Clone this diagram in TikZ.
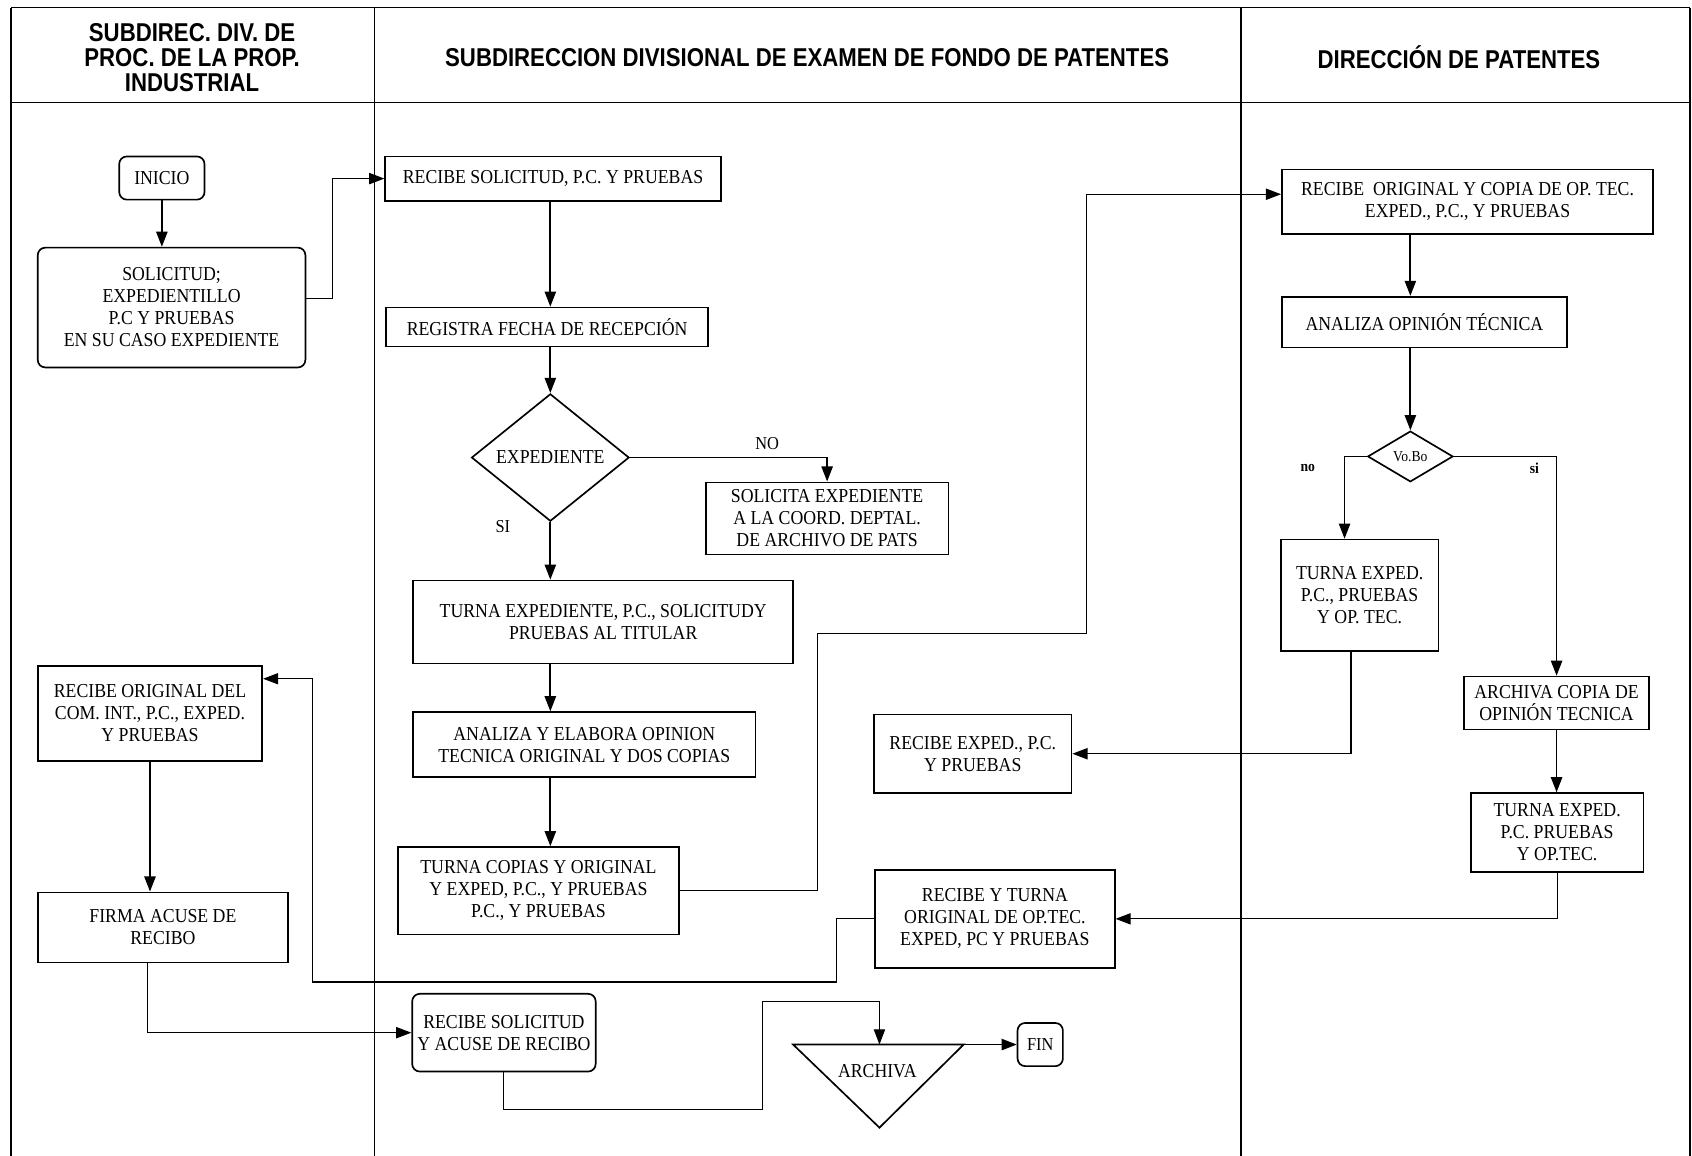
\documentclass[tikz,border=0pt]{standalone}
\usepackage{fontspec}
\setmainfont[FakeStretch=0.9]{Liberation Serif}
\newfontfamily\hdrfont[FakeStretch=0.86]{Liberation Sans}
\usetikzlibrary{arrows.meta,positioning,shapes.geometric,calc}

\begin{document}
\begin{tikzpicture}[x=0.025cm, y=-0.025cm,
  every node/.style={font=\fontsize{13}{14.5}\selectfont, align=center, inner sep=0pt},
  box/.style={draw, line width=1.1pt},
  rbox/.style={draw, line width=1.1pt, rounded corners=5pt},
  decision/.style={draw, diamond, line width=1.1pt},
  flow/.style={line width=1.2pt, -{Triangle[length=0.35cm,width=0.26cm]}},
  thinflow/.style={line width=0.7pt, -{Triangle[length=0.35cm,width=0.26cm]}},
  lane/.style={line width=1pt},
  hdr/.style={font=\hdrfont\bfseries\fontsize{17}{16.5}\selectfont},
  lbl/.style={font=\fontsize{12}{13}\selectfont}]
  \useasboundingbox (0,0) rectangle (1568,1071);

  % Lanes
  \draw[lane] (10,7) -- (1566,7);
  \draw[lane] (10,95) -- (1566,95);
  \draw[lane] (10,7) -- (10,1071);
  \draw[lane] (347,7) -- (347,1071);
  \draw[lane] (1150,7) -- (1150,1071);
  \draw[lane] (1566,7) -- (1566,1071);

  % Lane headers
  \node[hdr] (hdrProc) at (178,53) {SUBDIREC. DIV. DE\\PROC. DE LA PROP.\\INDUSTRIAL};
  \node[hdr] (hdrExamen) at (748,53) {SUBDIRECCION DIVISIONAL DE EXAMEN DE FONDO DE PATENTES};
  \node[hdr] (hdrDir) at (1352,53) {DIRECCIÓN DE PATENTES};

  % Lane 1: Subdirec. Div. de Proc. de la Prop. Industrial
  \node[rbox,minimum width=1.975cm,minimum height=1cm] (inicio) at (150,165) {INICIO};
  \node[rbox,minimum width=6.2cm,minimum height=2.775cm] (solicitud) at (159,285)
    {SOLICITUD;\\EXPEDIENTILLO\\P.C Y PRUEBAS\\EN SU CASO EXPEDIENTE};
  \node[box,minimum width=5.2cm,minimum height=2.2cm] (recibeOrig) at (139,661)
    {RECIBE ORIGINAL DEL\\COM. INT., P.C., EXPED.\\Y PRUEBAS};
  \node[box,minimum width=5.8cm,minimum height=1.625cm] (firma) at (151,859.5)
    {FIRMA ACUSE DE\\RECIBO};

  % Lane 2: Subdireccion Divisional de Examen de Fondo
  \node[box,minimum width=7.775cm,minimum height=1.025cm] (recibeSol) at (512.5,165.5)
    {RECIBE SOLICITUD, P.C. Y PRUEBAS};
  \node[box,minimum width=7.45cm,minimum height=0.9cm] (registra) at (507,303)
    {REGISTRA FECHA DE RECEPCIÓN};
  \node[decision,minimum width=3.65cm,minimum height=2.95cm] (expediente) at (510,424)
    {EXPEDIENTE};
  \node[box,minimum width=5.625cm,minimum height=1.675cm] (solicitaExp) at (766.5,480.5)
    {SOLICITA EXPEDIENTE\\A LA COORD. DEPTAL.\\DE ARCHIVO DE PATS};
  \node[box,minimum width=8.8cm,minimum height=1.925cm] (turnaExp) at (559,576.5)
    {TURNA EXPEDIENTE, P.C., SOLICITUDY\\PRUEBAS AL TITULAR};
  \node[box,minimum width=7.925cm,minimum height=1.5cm] (analiza) at (541.5,690)
    {ANALIZA Y ELABORA OPINION\\TECNICA ORIGINAL Y DOS COPIAS};
  \node[box,minimum width=6.5cm,minimum height=2.025cm] (turnaCopias) at (499,825.5)
    {TURNA COPIAS Y ORIGINAL\\Y EXPED, P.C., Y PRUEBAS\\P.C., Y PRUEBAS};
  \node[box,minimum width=4.575cm,minimum height=1.825cm] (recibeExped) at (901.5,698.5)
    {RECIBE EXPED., P.C.\\Y PRUEBAS};
  \node[box,minimum width=5.55cm,minimum height=2.275cm] (recibeTurna) at (922,851.5)
    {RECIBE Y TURNA\\ORIGINAL DE OP.TEC.\\EXPED, PC Y PRUEBAS};
  \node[rbox,minimum width=4.25cm,minimum height=1.8cm] (recibeSolAcuse) at (467,957)
    {RECIBE SOLICITUD\\Y ACUSE DE RECIBO};
  \coordinate (archivaTop) at (815,968);
  \coordinate (archivaR) at (893,968);
  \draw[line width=1.1pt] (735,968) -- (archivaR) -- (815,1045) -- cycle;
  \node (archiva) at (813,993) {ARCHIVA};
  \node[rbox,minimum width=1.05cm,minimum height=1cm,lbl] (fin) at (964,968) {FIN};

  % Lane 3: Direccion de Patentes
  \node[box,minimum width=8.6cm,minimum height=1.5cm] (recibeOrigCopia) at (1360,187)
    {RECIBE \ ORIGINAL Y COPIA DE OP. TEC.\\EXPED., P.C., Y PRUEBAS};
  \node[box,minimum width=6.6cm,minimum height=1.175cm] (analizaOp) at (1320,298.5)
    {ANALIZA OPINIÓN TÉCNICA};
  \node[decision,minimum width=1.975cm,minimum height=1.175cm,font=\fontsize{10}{11}\selectfont]
    (vobo) at (1307,423) {Vo.Bo};
  \node[box,minimum width=3.65cm,minimum height=2.575cm] (turnaExpNo) at (1260,551.5)
    {TURNA EXPED.\\P.C., PRUEBAS\\Y OP. TEC.};
  \node[box,minimum width=4.275cm,minimum height=1.225cm] (archivaCopia) at (1442.5,651.5)
    {ARCHIVA COPIA DE\\OPINIÓN TECNICA};
  \node[box,minimum width=4cm,minimum height=1.825cm] (turnaExpSi) at (1443,771.5)
    {TURNA EXPED.\\P.C. PRUEBAS\\Y OP.TEC.};

  % Branch labels
  \node[lbl] (lblNo) at (711,411) {NO};
  \node[lbl] (lblSi) at (466,488) {SI};
  \node[lbl,font=\bfseries\fontsize{10}{11}\selectfont] (lblNoVb) at (1212,434) {no};
  \node[lbl,font=\bfseries\fontsize{10}{11}\selectfont] (lblSiVb) at (1422,434) {si};

  % Connectors lane 1
  \draw[flow] (inicio.south) -- (inicio.south |- solicitud.north);
  \draw[thinflow] ($(solicitud.east)+(0,-8)$) -- ++(24,0) |- (recibeSol.west);
  \draw[flow] (recibeOrig.south) -- (recibeOrig.south |- firma.north);
  \draw[thinflow] ($(firma.south)+(-14,0)$) |- (recibeSolAcuse.west);

  % Connectors lane 2
  \draw[flow] (expediente |- recibeSol.south) -- (expediente |- registra.north);
  \draw[flow] (expediente |- registra.south) -- (expediente.north);
  \draw[flow] (expediente.east) -| (solicitaExp.north);
  \draw[flow] (expediente.south) -- (expediente |- turnaExp.north);
  \draw[flow] (expediente |- turnaExp.south) -- (expediente |- analiza.north);
  \draw[flow] (expediente |- analiza.south) -- (expediente |- turnaCopias.north);
  \draw[thinflow] (turnaCopias.east) -| (758,587) -- (1007,587) |- ($(recibeOrigCopia.west)+(0,-7)$);
  \draw[thinflow] (recibeTurna.west) -| (775,910) -- (290,910) |- ($(recibeOrig.east)+(0,-32)$);
  \draw[thinflow] (recibeSolAcuse.south) |- (707,1028) -- (707,928) -| (archivaTop);
  \draw[flow] (archivaR) -- (fin.west);

  % Connectors lane 3
  \draw[flow] (vobo |- recibeOrigCopia.south) -- (vobo |- analizaOp.north);
  \draw[flow] (vobo |- analizaOp.south) -- (vobo.north);
  \draw[flow] (vobo.west) -| ($(turnaExpNo.north)+(-14,0)$);
  \draw[flow] (vobo.east) -| (archivaCopia.north);
  \draw[flow] (archivaCopia.south) -- (archivaCopia.south |- turnaExpSi.north);
  \draw[thinflow] ($(turnaExpNo.south)+(-8,0)$) |- (recibeExped.east);
  \draw[thinflow] (turnaExpSi.south) |- (recibeTurna.east);
\end{tikzpicture}
\end{document}
